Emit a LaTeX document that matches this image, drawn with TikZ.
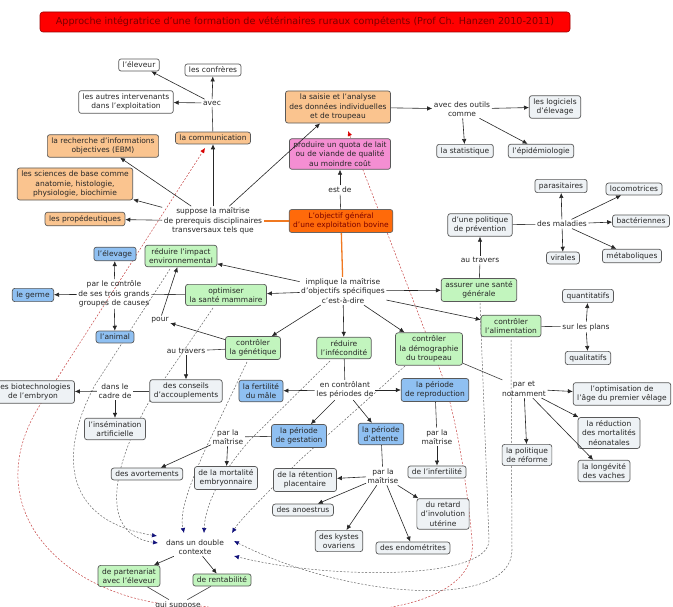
\documentclass[tikz,border=0pt]{standalone}
\usepackage{fontspec}
\setmainfont{DejaVu Sans}
\usetikzlibrary{arrows.meta}
\definecolor{cOrange}{HTML}{FAC48F}
\definecolor{cDark}{HTML}{FF6A0A}
\definecolor{cPink}{HTML}{F48ED2}
\definecolor{cGreen}{HTML}{C2F5BE}
\definecolor{cBlue}{HTML}{8FC0F2}
\definecolor{cLight}{HTML}{EEF2F5}
\definecolor{cOLine}{HTML}{F07820}
\definecolor{cNavy}{HTML}{10107A}
\definecolor{cRedDash}{HTML}{C84848}
\definecolor{cTitleTxt}{HTML}{7A0000}
\newcommand\myfs{\fontsize{7.5}{9.4}\selectfont}
\begin{document}
\begin{tikzpicture}[x=1pt,y=-1pt,
  bx/.style={draw=black!65, rounded corners=2.5pt, line width=0.7pt, align=center, inner xsep=4pt, inner ysep=3pt, font=\myfs, text=black!85},
  wb/.style={bx, fill=white},
  ob/.style={bx, fill=cOrange},
  gb/.style={bx, fill=cGreen},
  bb/.style={bx, fill=cBlue},
  lb/.style={bx, fill=cLight},
  lk/.style={align=center, inner sep=1.5pt, font=\myfs, text=black!85},
  ar/.style={-{Latex[length=5pt,width=4.5pt]}, draw=black!85, line width=0.6pt},
  ln/.style={draw=black!75, line width=0.6pt},
  ol/.style={draw=cOLine, line width=1.3pt},
  dl/.style={draw=black!60, dash pattern=on 2pt off 1.6pt, line width=0.5pt, -{Latex[length=5pt,width=4.5pt,color=cNavy]}},
  rl/.style={draw=cRedDash, dash pattern=on 2pt off 1.6pt, line width=0.5pt, -{Latex[length=5pt,width=4.5pt,color=red!85!black]}}
]
\useasboundingbox (0,0) rectangle (673,607);
\fill[white] (0,0) rectangle (673,607);

% dashed cross links (drawn first, behind nodes)
\draw[rl] (157,603) .. controls (50,585) and (-20,500) .. (40,405) -- (205,148);
\draw[rl] (200,606) .. controls (350,625) and (480,610) .. (472,540) .. controls (466,470) and (452,400) .. (440,370) -- (348,131);
\draw[dl] (170,269) -- (95,385) .. controls (60,450) and (60,520) .. (157,536);
\draw[dl] (213,308) -- (150,400) .. controls (110,470) and (100,535) .. (158,543);
\draw[dl] (247,362) -- (205,450) .. controls (185,495) and (180,515) .. (184,533);
\draw[dl] (330,361) -- (250,440) .. controls (215,480) and (205,510) .. (204,533);
\draw[dl] (405,366) -- (300,460) .. controls (260,500) and (240,520) .. (232,533);
\draw[dl] (511,340) -- (512,550) .. controls (512,610) and (350,600) .. (234,541);
\draw[dl] (480,303) -- (489,540) .. controls (490,580) and (330,580) .. (234,556);

% title
\node[draw=red!60!black, fill=red, rounded corners=3pt, line width=0.6pt, text=cTitleTxt, minimum width=530pt, minimum height=20pt, inner sep=0pt, font=\fontsize{9.6}{11}\selectfont] (title) at (305,22) {Approche intégratrice d'une formation de vétérinaires ruraux compétents (Prof Ch. Hanzen 2010-2011)};

% upper left
\node[wb] (eleveur) at (139,65) {l'éleveur};
\node[wb] (confreres) at (213,70) {les confrères};
\node[wb] (autres) at (126,102) {les autres intervenants\\dans l'exploitation};
\node[lk] (avec) at (212,103) {avec};
\node[ob] (comm) at (213,138) {la communication};
\node[ob] (rech) at (103,146) {la recherche d'informations\\objectives (EBM)};
\node[ob] (sci) at (75,184) {les sciences de base comme\\anatomie, histologie,\\physiologie, biochimie};
\node[ob] (prop) at (85,219) {les propédeutiques};
\node[lk] (suppose) at (213,221) {suppose la maîtrise\\de prerequis disciplinaires\\transversaux tels que};

% upper centre / right
\node[ob] (saisie) at (338,107) {la saisie et l'analyse\\des données individuelles\\et de troupeau};
\node[bx, fill=cPink] (produire) at (340,154) {produire un quota de lait\\ou de viande de qualité\\au moindre coût};
\node[lk] (estde) at (340,190) {est de};
\node[bx, fill=cDark, text=cTitleTxt, draw=black!60] (obj) at (341,221) {L'objectif général\\d'une exploitation bovine};
\node[lk] (outils) at (462,109) {avec des outils\\comme};
\node[lb] (logiciels) at (555,107) {les logiciels\\d'élevage};
\node[lb] (stat) at (465,151) {la statistique};
\node[lb] (epid) at (541,151) {l'épidémiologie};

\node[lb] (parasit) at (561,186) {parasitaires};
\node[lb] (locom) at (634,189) {locomotrices};
\node[lb] (bact) at (641,221) {bactériennes};
\node[lb] (metab) at (632,256) {métaboliques};
\node[lb] (virales) at (563,258) {virales};
\node[lk] (maladies) at (562,224) {des maladies};
\node[lb] (prevention) at (480,225) {d'une politique\\de prévention};
\node[lk] (autravR) at (480,260) {au travers};
\node[gb] (assurer) at (479,290) {assurer une santé\\générale};
\node[gb] (alim) at (511,326) {contrôler\\l'alimentation};
\node[lk] (plans) at (586,327) {sur les plans};
\node[lb] (quanti) at (588,296) {quantitatifs};
\node[lb] (quali) at (588,358) {qualitatifs};

% middle
\node[lk] (implique) at (343,291) {implique la maîtrise\\d'objectifs spécifiques\\c'est-à-dire};
\node[gb] (demog) at (429,349) {contrôler\\la démographie\\du troupeau};
\node[gb] (infec) at (344,348) {réduire\\l'infécondité};
\node[bb] (elevage) at (115,254) {l'élevage};
\node[gb] (impact) at (181,256) {réduire l'impact\\environnemental};
\node[bb] (germe) at (33,295) {le germe};
\node[lk] (controle) at (114,294) {par le contrôle\\de ses trois grands\\groupes de causes};
\node[gb] (mammaire) at (226,295) {optimiser\\la santé mammaire};
\node[lk] (pour) at (160,320) {pour};
\node[bb] (animal) at (115,337) {l'animal};
\node[gb] (genet) at (253,348) {contrôler\\la génétique};
\node[lk] (autravL) at (186,351) {au travers};

% lower
\node[lb] (biotech) at (33,392) {des biotechnologies\\de l'embryon};
\node[lk] (cadre) at (115,391) {dans le\\cadre de};
\node[lb] (conseils) at (186,391) {des conseils\\d'accouplements};
\node[lb] (insem) at (115,429) {l'insémination\\artificielle};
\node[bb] (male) at (261,391) {la fertilité\\du mâle};
\node[lk] (controlant) at (345,390) {en contrôlant\\les périodes de};
\node[bb] (repro) at (435,390) {la période\\de reproduction};
\node[bb] (gest) at (299,436) {la période\\de gestation};
\node[bb] (attente) at (381,434) {la période\\d'attente};
\node[lk] (pmG) at (228,437) {par la\\maîtrise};
\node[lk] (pmR) at (437,437) {par la\\maîtrise};
\node[lk] (pmA) at (383,476) {par la\\maîtrise};
\node[lb] (avort) at (147,474) {des avortements};
\node[lb] (mortal) at (226,478) {de la mortalité\\embryonnaire};
\node[lb] (retention) at (305,480) {de la rétention\\placentaire};
\node[lb] (infert) at (437,472) {de l'infertilité};
\node[lb] (anoestrus) at (303,510) {des anoestrus};
\node[lb] (retard) at (443,514) {du retard\\d'involution\\utérine};
\node[lb] (kystes) at (339,541) {des kystes\\ovariens};
\node[lb] (endom) at (413,548) {des endométrites};
\node[lk] (notamment) at (524,389) {par et\\notamment};
\node[lb] (optim) at (622,394) {l'optimisation de\\l'âge du premier vêlage};
\node[lb] (reduc) at (609,433) {la réduction\\des mortalités\\néonatales};
\node[lb] (reforme) at (527,455) {la politique\\de réforme};
\node[lb] (longev) at (604,471) {la longévité\\des vaches};
\node[lk] (double) at (195,547) {dans un double\\contexte};
\node[gb] (parten) at (129,576) {de partenariat\\avec l'éleveur};
\node[gb] (rentab) at (222,580) {de rentabilité};
\node[lk] (suppose2) at (178,605) {qui suppose};

% connectors
\draw[ln] (comm) -- (avec);
\draw[ar] (avec) -- (eleveur);
\draw[ar] (avec) -- (confreres);
\draw[ar] (avec) -- (autres);
\draw[ar] (suppose) -- (comm);
\draw[ar] (suppose) -- (rech);
\draw[ar] (suppose) -- (sci);
\draw[ar] (suppose) -- (prop);
\draw[ar] (suppose) -- (saisie);
\draw[ol] (obj) -- (suppose);
\draw[ln] (obj) -- (estde);
\draw[ar] (estde) -- (produire);
\draw[ar] (saisie) -- (outils);
\draw[ar] (outils) -- (logiciels);
\draw[ar] (outils) -- (stat);
\draw[ar] (outils) -- (epid);
\draw[ol] (obj) -- (implique);
\draw[ar] (implique) -- (impact);
\draw[ar] (implique) -- (mammaire);
\draw[ar] (implique) -- (genet);
\draw[ar] (implique) -- (infec);
\draw[ar] (implique) -- (demog);
\draw[ar] (implique) -- (assurer);
\draw[ar] (implique) -- (alim);
\draw[ln] (assurer) -- (autravR);
\draw[ar] (autravR) -- (prevention);
\draw[ln] (prevention) -- (maladies);
\draw[ar] (maladies) -- (parasit);
\draw[ar] (maladies) -- (locom);
\draw[ar] (maladies) -- (bact);
\draw[ar] (maladies) -- (metab);
\draw[ar] (maladies) -- (virales);
\draw[ln] (alim) -- (plans);
\draw[ar] (plans) -- (quanti);
\draw[ar] (plans) -- (quali);
\draw[ln] (mammaire) -- (controle);
\draw[ar] (controle) -- (elevage);
\draw[ar] (controle) -- (germe);
\draw[ar] (controle) -- (animal);
\draw[ar] (genet) -- (pour);
\draw[ar] (pour) -- (impact);
\draw[ln] (genet) -- (autravL);
\draw[ar] (autravL) -- (conseils);
\draw[ln] (conseils) -- (cadre);
\draw[ar] (cadre) -- (biotech);
\draw[ar] (cadre) -- (insem);
\draw[ln] (infec) -- (controlant);
\draw[ar] (controlant) -- (male);
\draw[ar] (controlant) -- (repro);
\draw[ar] (controlant) -- (gest);
\draw[ar] (controlant) -- (attente);
\draw[ln] (gest) -- (pmG);
\draw[ar] (pmG) -- (avort);
\draw[ar] (pmG) -- (mortal);
\draw[ln] (repro) -- (pmR);
\draw[ar] (pmR) -- (infert);
\draw[ln] (attente) -- (pmA);
\draw[ar] (pmA) -- (retention);
\draw[ar] (pmA) -- (anoestrus);
\draw[ar] (pmA) -- (kystes);
\draw[ar] (pmA) -- (endom);
\draw[ar] (pmA) -- (retard);
\draw[ln] (demog) -- (notamment);
\draw[ar] (notamment) -- (optim);
\draw[ar] (notamment) -- (reduc);
\draw[ar] (notamment) -- (reforme);
\draw[ar] (notamment) -- (longev);
\draw[ar] (double) -- (parten);
\draw[ar] (double) -- (rentab);
\draw[ln] (parten) -- (suppose2);
\draw[ln] (rentab) -- (suppose2);
\end{tikzpicture}
\end{document}
